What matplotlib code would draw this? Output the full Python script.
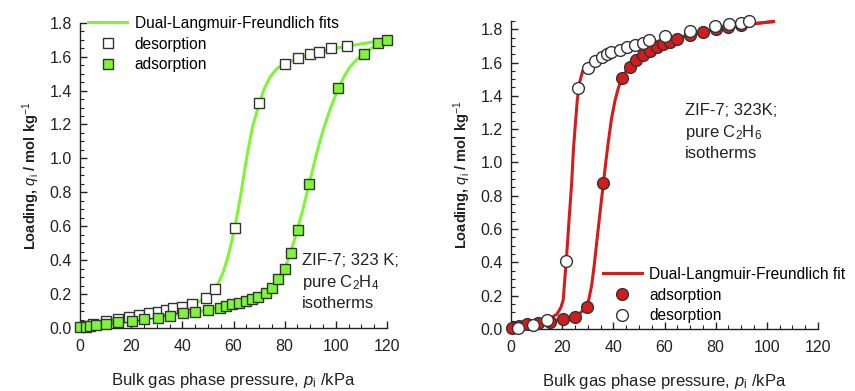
import matplotlib
matplotlib.use("Agg")
import matplotlib.pyplot as plt
from matplotlib.lines import Line2D
from matplotlib.ticker import MultipleLocator

plt.rcParams['font.family'] = ['Liberation Sans', 'DejaVu Sans']
plt.rcParams['mathtext.fontset'] = 'custom'
plt.rcParams['mathtext.rm'] = 'Liberation Sans'
plt.rcParams['mathtext.it'] = 'Liberation Sans:italic'
plt.rcParams['mathtext.bf'] = 'Liberation Sans:bold'

# ---- C2H4 (left) ----
c2h4_ads_p = [0, 2.3, 4, 6.2, 10.2, 15, 20.2, 25, 30.4, 35, 40.1, 45, 50.2, 54.7, 57.2,
              59.5, 62.3, 64.8, 67.4, 69.7, 72.6, 74.9, 77.3, 80.1, 82.5, 85.3, 89.6,
              101, 111, 116.4, 119.9]
c2h4_ads_q = [0.004, 0.008, 0.014, 0.019, 0.026, 0.035, 0.043, 0.051, 0.062, 0.073, 0.087,
              0.095, 0.106, 0.120, 0.130, 0.140, 0.149, 0.159, 0.173, 0.185, 0.204, 0.234,
              0.287, 0.346, 0.444, 0.578, 0.851, 1.413, 1.616, 1.678, 1.700]
c2h4_des_p = [2, 5, 10, 15, 19, 23, 27, 30.5, 33.5, 36.5, 39.7, 43.7, 49.4, 52.9, 60.5,
              70.1, 80.1, 85.3, 89.9, 93.4, 98.1, 104.5]
c2h4_des_q = [0.010, 0.025, 0.040, 0.052, 0.064, 0.076, 0.086, 0.094, 0.105, 0.116, 0.126,
              0.143, 0.175, 0.230, 0.588, 1.325, 1.555, 1.594, 1.616, 1.627, 1.649, 1.665]

c2h4_fit_des_p = [0, 10, 20, 30, 40, 45, 50, 53, 56, 58, 60.5, 63, 65.2, 67.5, 70, 72,
                  74.3, 77, 79.5, 85, 90, 100, 110, 120]
c2h4_fit_des_q = [0, 0.040, 0.070, 0.095, 0.125, 0.145, 0.185, 0.230, 0.330, 0.430, 0.590,
                  0.800, 1.010, 1.190, 1.320, 1.410, 1.480, 1.530, 1.555, 1.590, 1.615,
                  1.650, 1.675, 1.700]
c2h4_fit_ads_p = [0, 10, 20, 30, 40, 50, 60, 65, 70, 73, 75, 77, 79, 80.5, 82.5, 84.7, 87,
                  89.6, 92.5, 95.1, 98, 101, 103.5, 105.6, 108, 110.8, 114, 117.3, 120]
c2h4_fit_ads_q = [0, 0.022, 0.042, 0.062, 0.085, 0.105, 0.140, 0.160, 0.190, 0.215, 0.240,
                  0.280, 0.330, 0.370, 0.450, 0.570, 0.690, 0.851, 1.030, 1.170, 1.300,
                  1.413, 1.490, 1.540, 1.580, 1.615, 1.650, 1.680, 1.700]

# ---- C2H6 (right) ----
c2h6_ads_p = [0.3, 3, 6.1, 10.7, 15.2, 20.2, 25, 29.7, 36.1, 43.5, 46.4, 49, 51.6, 54.2,
              57, 59.6, 62.2, 64.9, 70, 75, 80, 85, 90]
c2h6_ads_q = [0.005, 0.015, 0.030, 0.038, 0.044, 0.058, 0.072, 0.134, 0.875, 1.508, 1.575,
              1.613, 1.647, 1.667, 1.695, 1.714, 1.726, 1.742, 1.765, 1.782, 1.800, 1.815,
              1.828]
c2h6_des_p = [2.9, 8.7, 14, 21.5, 26.3, 30.2, 32.8, 35.5, 37.4, 39, 42.6, 45.2, 48.5, 51.5,
              54.1, 60.2, 69.8, 79.9, 85.1, 90, 93.1]
c2h6_des_q = [0.005, 0.026, 0.054, 0.408, 1.445, 1.566, 1.610, 1.632, 1.652, 1.662, 1.676,
              1.692, 1.706, 1.720, 1.736, 1.762, 1.788, 1.818, 1.832, 1.840, 1.852]

c2h6_fit_des_p = [0, 5, 10, 14, 16, 18, 19.5, 20.4, 21.1, 21.8, 22.8, 23.7, 24.4, 25, 25.9,
                  26.8, 28, 29.5, 32, 36, 40, 45, 50, 55, 60, 65, 70, 75, 80, 90, 102.6]
c2h6_fit_des_q = [0, 0.015, 0.035, 0.055, 0.070, 0.090, 0.130, 0.174, 0.314, 0.455, 0.680,
                  0.875, 1.080, 1.200, 1.375, 1.480, 1.550, 1.585, 1.610, 1.640, 1.665,
                  1.690, 1.705, 1.720, 1.735, 1.748, 1.765, 1.782, 1.800, 1.825, 1.846]
c2h6_fit_ads_p = [0, 5, 10, 15, 20, 25, 27, 28.9, 30.3, 31.5, 32.5, 33.5, 34.8, 36.1, 37,
                  38, 39.3, 40.7, 42, 43.5, 45, 47, 49, 52, 55, 60, 65, 70, 75, 80, 90, 102.6]
c2h6_fit_ads_q = [0, 0.020, 0.035, 0.045, 0.058, 0.080, 0.095, 0.124, 0.170, 0.260, 0.380,
                  0.520, 0.700, 0.875, 0.995, 1.120, 1.265, 1.375, 1.450, 1.508, 1.550,
                  1.585, 1.612, 1.645, 1.672, 1.712, 1.742, 1.765, 1.782, 1.800, 1.825, 1.846]

green = '#7ff53a'
red = '#d41c1c'
edge = '#333333'
ink = '#222222'
tick_fs = 11.5
leg_fs = 11.2
note_fs = 12

fig = plt.figure(figsize=(8.55, 3.91), dpi=100)
ax1 = fig.add_axes([0.0936, 0.161, 0.359, 0.781])
ax2 = fig.add_axes([0.5977, 0.1586, 0.359, 0.788])


def style_axes(ax, ymax):
    ax.set_xlim(0, 120)
    ax.set_ylim(0, ymax)
    for s in ('top', 'right'):
        ax.spines[s].set_visible(False)
    for s in ('left', 'bottom'):
        ax.spines[s].set_color(ink)
        ax.spines[s].set_linewidth(1.0)
    ax.xaxis.set_major_locator(MultipleLocator(20))
    ax.xaxis.set_minor_locator(MultipleLocator(5))
    ax.yaxis.set_major_locator(MultipleLocator(0.2))
    ax.yaxis.set_minor_locator(MultipleLocator(0.05))
    ax.yaxis.set_major_formatter(plt.FuncFormatter(lambda v, _: f"{v:.1f}"))
    ax.tick_params(which='major', direction='in', length=5, width=1,
                   labelsize=tick_fs, colors=ink)
    ax.tick_params(which='minor', direction='in', length=3, width=0.8, colors=ink)
    ax.tick_params(axis='x', which='major', pad=8)
    ax.tick_params(axis='y', which='major', pad=6)
    ax.set_xlabel("Bulk gas phase pressure, $p_\\mathrm{i}$ /kPa", fontsize=12,
                  labelpad=12, color=ink)
    ax.set_ylabel("Loading, $q_\\mathrm{i}$ / mol kg$^{-1}$", fontsize=10.5,
                  fontweight='bold', labelpad=5, color=ink)


# left: C2H4
ax1.plot(c2h4_fit_des_p, c2h4_fit_des_q, color=green, lw=2.2, zorder=2, clip_on=False)
ax1.plot(c2h4_fit_ads_p, c2h4_fit_ads_q, color=green, lw=2.2, zorder=2, clip_on=False)
ax1.plot(c2h4_des_p, c2h4_des_q, 's', ms=7.5, mfc='white', mec=edge, mew=1.0,
         zorder=3, clip_on=False)
ax1.plot(c2h4_ads_p, c2h4_ads_q, 's', ms=7.5, mfc=green, mec=edge, mew=1.0,
         zorder=4, clip_on=False)
style_axes(ax1, 1.8)

h1 = [Line2D([], [], color=green, lw=2.2),
      Line2D([], [], ls='none', marker='s', ms=7.5, mfc='white', mec=edge, mew=1.0),
      Line2D([], [], ls='none', marker='s', ms=7.5, mfc=green, mec=edge, mew=1.0)]
fig.legend(h1, ["Dual-Langmuir-Freundlich fits", "desorption", "adsorption"],
           loc='upper left', bbox_to_anchor=(0.103, 0.960), frameon=False,
           fontsize=leg_fs, handlelength=2.5, handletextpad=0.5, labelspacing=0.38,
           borderpad=0, borderaxespad=0)
fig.text(302 / 855, 1 - 253 / 391, "ZIF-7; 323 K;\npure C$_2$H$_4$\nisotherms",
         fontsize=note_fs, va='top', ha='left', linespacing=1.35, color=ink)

# right: C2H6
ax2.plot(c2h6_fit_des_p, c2h6_fit_des_q, color=red, lw=2.2, zorder=2, clip_on=False)
ax2.plot(c2h6_fit_ads_p, c2h6_fit_ads_q, color=red, lw=2.2, zorder=2, clip_on=False)
ax2.plot(c2h6_ads_p, c2h6_ads_q, 'o', ms=8.5, mfc=red, mec=edge, mew=1.0,
         zorder=3, clip_on=False)
ax2.plot(c2h6_des_p, c2h6_des_q, 'o', ms=8.5, mfc='white', mec=edge, mew=1.0,
         zorder=4, clip_on=False)
style_axes(ax2, 1.85)

h2 = [Line2D([], [], color=red, lw=2.2),
      Line2D([], [], ls='none', marker='o', ms=8.5, mfc=red, mec=edge, mew=1.0),
      Line2D([], [], ls='none', marker='o', ms=8.5, mfc='white', mec=edge, mew=1.0)]
fig.legend(h2, ["Dual-Langmuir-Freundlich fit", "adsorption", "desorption"],
           loc='upper left', bbox_to_anchor=(0.705, 0.318), frameon=False,
           fontsize=leg_fs, handlelength=2.5, handletextpad=0.5, labelspacing=0.38,
           borderpad=0, borderaxespad=0)
fig.text(685 / 855, 1 - 103 / 391, "ZIF-7; 323K;\npure C$_2$H$_6$\nisotherms",
         fontsize=note_fs, va='top', ha='left', linespacing=1.35, color=ink)

fig.savefig("out.png", dpi=100)
